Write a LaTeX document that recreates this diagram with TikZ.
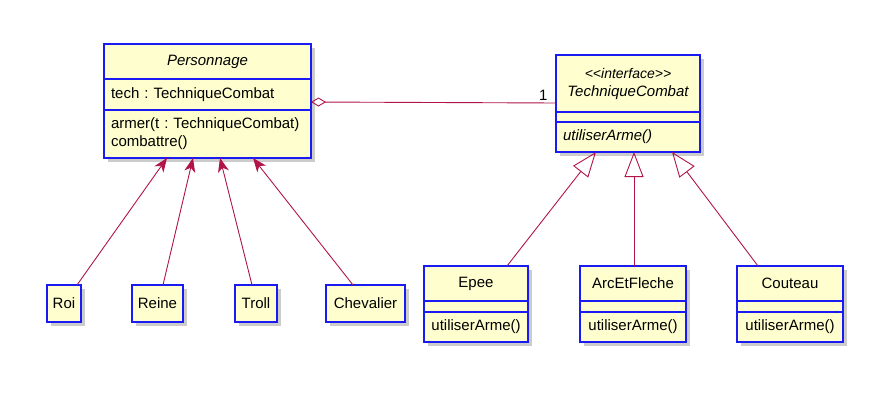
\documentclass[tikz,border=0pt]{standalone}
\usepackage{fontspec}
\newfontfamily\umlfont{Liberation Sans}
\usetikzlibrary{positioning,shadows,arrows.meta}

\definecolor{umlfill}{HTML}{FEFECE}
\definecolor{umlborder}{HTML}{1A1AF5}
\definecolor{umlline}{HTML}{B0144A}
\newcommand{\umlsize}{\fontsize{15}{18}\selectfont}
\frenchspacing

\begin{document}
\begin{tikzpicture}[
    x=1pt, y=-1pt, % pixel units, y going down
    umlpart/.style={
      rectangle,
      draw=umlborder,
      line width=1.5pt,
      fill=umlfill,
      outer sep=0pt,
      inner xsep=7pt,
      inner ysep=0pt,
      font=\umlfont\umlsize,
      drop shadow={shadow xshift=4pt, shadow yshift=-4pt, opacity=0.4}
    },
    inherit/.style={draw=umlline, line width=0.9pt,
      -{Stealth[length=14pt, width=11pt, inset=4pt]}},
    realize/.style={draw=umlline, line width=0.9pt,
      -{Triangle[open, length=25pt, width=19pt]}},
    aggreg/.style={draw=umlline, line width=0.9pt,
      {Diamond[open, length=15pt, width=9pt]}-},
  ]
    \useasboundingbox (0,0) rectangle (888,409);

    % Personnage class
    \node[umlpart, anchor=north west, minimum width=207pt, minimum height=35pt,
      font=\umlfont\umlsize\itshape] (perso-title) at (104,44) {Personnage};
    \node[umlpart, below=0pt of perso-title, minimum width=207pt,
      minimum height=31pt, text width=193pt, align=left]
      (perso-attr) {tech : TechniqueCombat};
    \node[umlpart, below=0pt of perso-attr, minimum width=207pt,
      minimum height=48pt, text width=193pt, align=left]
      (perso-ops) {armer(t : TechniqueCombat)\\combattre()};

    % TechniqueCombat interface
    \node[umlpart, anchor=north west, minimum width=144pt, minimum height=57pt,
      text width=130pt, align=center, font=\umlfont\umlsize\itshape]
      (tc-title) at (556,55)
      {{\fontsize{14}{16}\selectfont <\kern0pt<interface>\kern0pt>}\\[0pt]TechniqueCombat};
    \node[umlpart, below=0pt of tc-title, minimum width=144pt,
      minimum height=10pt] (tc-attr) {};
    \node[umlpart, below=0pt of tc-attr, minimum width=144pt,
      minimum height=30pt, text width=130pt, align=left,
      font=\umlfont\umlsize\itshape] (tc-ops) {utiliserArme()};

    % subclasses of Personnage
    \node[umlpart, anchor=north west, minimum width=34pt, minimum height=37pt,
      inner xsep=4pt] (roi) at (47,285) {Roi};
    \node[umlpart, anchor=north west, minimum width=51pt, minimum height=37pt,
      inner xsep=4pt] (reine) at (132,285) {Reine};
    \node[umlpart, anchor=north west, minimum width=42pt, minimum height=37pt,
      inner xsep=4pt] (troll) at (235,285) {Troll};
    \node[umlpart, anchor=north west, minimum width=79pt, minimum height=37pt,
      inner xsep=4pt] (chevalier) at (326,285) {Chevalier};

    % weapons
    \node[umlpart, anchor=north west, minimum width=104pt, minimum height=35pt]
      (epee-title) at (424,266) {Epee};
    \node[umlpart, below=0pt of epee-title, minimum width=104pt,
      minimum height=11pt] (epee-attr) {};
    \node[umlpart, below=0pt of epee-attr, minimum width=104pt,
      minimum height=30pt] (epee-ops) {utiliserArme()};

    \node[umlpart, anchor=north west, minimum width=106pt, minimum height=35pt]
      (arc-title) at (580,266) {ArcEtFleche};
    \node[umlpart, below=0pt of arc-title, minimum width=106pt,
      minimum height=11pt] (arc-attr) {};
    \node[umlpart, below=0pt of arc-attr, minimum width=106pt,
      minimum height=30pt] (arc-ops) {utiliserArme()};

    \node[umlpart, anchor=north west, minimum width=106pt, minimum height=35pt]
      (couteau-title) at (737,266) {Couteau};
    \node[umlpart, below=0pt of couteau-title, minimum width=106pt,
      minimum height=11pt] (couteau-attr) {};
    \node[umlpart, below=0pt of couteau-attr, minimum width=106pt,
      minimum height=30pt] (couteau-ops) {utiliserArme()};

    % inheritance
    \draw[inherit] ([xshift=13pt]roi.north) -- ([xshift=-40.5pt]perso-ops.south);
    \draw[inherit] ([xshift=5.5pt]reine.north) -- ([xshift=-14.5pt]perso-ops.south);
    \draw[inherit] ([xshift=-4pt]troll.north) -- ([xshift=12.5pt]perso-ops.south);
    \draw[inherit] ([xshift=-12.5pt]chevalier.north) -- ([xshift=45.5pt]perso-ops.south);

    % realization
    \draw[realize] ([xshift=31pt]epee-title.north) -- ([xshift=-32pt]tc-ops.south);
    \draw[realize] ([xshift=1pt]arc-title.north) -- ([xshift=6pt]tc-ops.south);
    \draw[realize] ([xshift=-32pt]couteau-title.north) -- ([xshift=44pt]tc-ops.south);

    % aggregation
    \draw[aggreg] ([yshift=-7.5pt]perso-attr.east) -- ([yshift=-19.5pt]tc-title.west)
      node[pos=1, above left, inner sep=2pt, xshift=-6pt, font=\umlfont\umlsize] (mult) {1};
  \end{tikzpicture}
\end{document}
